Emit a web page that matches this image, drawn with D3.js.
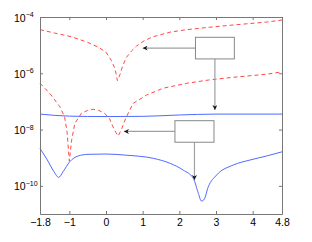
<!DOCTYPE html>
<html>
<head>
<meta charset="utf-8">
<script src="https://cdn.jsdelivr.net/npm/d3@7"></script>
<style>
body { margin: 0; background: #fff; }
</style>
</head>
<body>
<script>
const svgWidth = 312;
const svgHeight = 242;
const margin = {top: 17, right: 30, bottom: 28, left: 40};

// ticks
const xTicks = [-1.8, -1, 0, 1, 2, 3, 4, 4.8];
const yTicks = [1e-4, 1e-6, 1e-8, 1e-10];

// red dashed, upper
const redUpperX = [-1.8, -1.4, -0.95, -0.5, -0.2, 0, 0.15, 0.25, 0.31, 0.38, 0.45, 0.56, 0.7, 0.84, 1.05, 1.29, 1.75, 2.2, 2.8, 3.47, 4.38, 4.8];
const redUpperY = [3.55e-5, 2.69e-5, 2.0e-5, 1.26e-5, 8.3e-6, 5.6e-6, 2.8e-6, 1.4e-6, 5.5e-7, 8.9e-7, 1.78e-6, 3.7e-6, 6.3e-6, 9.5e-6, 1.45e-5, 2.0e-5, 2.9e-5, 3.55e-5, 4.3e-5, 5.2e-5, 6.6e-5, 7.8e-5];

// red dashed, lower
const redLowerX = [-1.8, -1.65, -1.5, -1.26, -1.13, -1.06, -1.0, -0.94, -0.85, -0.67, -0.5, -0.35, -0.2, -0.04, 0.1, 0.19, 0.27, 0.33, 0.42, 0.53, 0.74, 1.11, 1.56, 2.2, 2.79, 3.47, 4.38, 4.8];
const redLowerY = [4.4e-7, 2.8e-7, 1.7e-7, 6.5e-8, 2.9e-8, 7.9e-9, 7.6e-10, 4.0e-9, 1.66e-8, 3.8e-8, 4.8e-8, 5.25e-8, 4.8e-8, 3.8e-8, 2.4e-8, 1.26e-8, 7.9e-9, 5.9e-9, 1.0e-8, 2.4e-8, 8.5e-8, 1.7e-7, 2.95e-7, 4.4e-7, 5.75e-7, 7.2e-7, 9.3e-7, 1.12e-6];

// blue solid, upper (almost flat)
const blueUpperX = [-1.8, -1, 0, 1, 2, 3, 4.8];
const blueUpperY = [3.55e-8, 3.0e-8, 2.9e-8, 2.95e-8, 3.3e-8, 3.55e-8, 3.55e-8];

// blue solid, lower
const blueLowerX = [-1.8, -1.6, -1.42, -1.29, -1.17, -0.99, -0.76, -0.49, 0, 0.55, 1.29, 1.75, 2.11, 2.38, 2.52, 2.6, 2.67, 2.79, 3.02, 3.47, 3.93, 4.38, 4.8];
const blueLowerY = [2.14e-9, 8.3e-10, 3.2e-10, 2.0e-10, 3.2e-10, 7.2e-10, 1.15e-9, 1.32e-9, 1.35e-9, 1.23e-9, 9.5e-10, 6.3e-10, 3.6e-10, 1.86e-10, 5.4e-11, 2.9e-11, 3.2e-11, 9.3e-11, 2.45e-10, 5.5e-10, 8.3e-10, 1.15e-9, 1.62e-9];

// empty annotation boxes with two arrows each (data coords)
const boxLeft = [2.44, 1.88];
const boxRight = [3.5, 2.945];
const boxTop = [1.9e-5, 2.07e-8];
const boxBottom = [3.24e-6, 3.55e-9];
const arrowLeftTip = [1.0, 0.49];
const arrowDownTip = [5.0e-8, 1.62e-10];

var w = svgWidth - margin.left - margin.right;
var h = svgHeight - margin.top - margin.bottom;

var svg = d3.select("body").append("svg")
    .attr("width", svgWidth)
    .attr("height", svgHeight);

var defs = svg.append("defs");
defs.append("marker")
    .attr("id", "head")
    .attr("viewBox", "0 0 10 10")
    .attr("refX", 10)
    .attr("refY", 5)
    .attr("markerUnits", "userSpaceOnUse")
    .attr("markerWidth", 5)
    .attr("markerHeight", 5)
    .attr("orient", "auto")
    .append("path")
    .attr("d", "M0,0L10,5L0,10L3,5Z")
    .attr("fill", "#111");

svg = svg.append("g")
    .attr("transform", `translate(${margin.left},${margin.top})`);

const x = d3.scaleLinear().domain([-1.8, 4.8]).range([0, w]);
const y = d3.scaleLog().domain([1e-11, 1e-4]).range([h, 0]);

const line = (curve) => d3.line()
    .x(d => x(d[0]))
    .y(d => y(d[1]))
    .curve(curve);

const zip = (a, b) => a.map((v, i) => [v, b[i]]);

// curves
svg.append("path")
    .attr("d", line(d3.curveLinear)(zip(redUpperX, redUpperY)))
    .attr("fill", "none")
    .attr("stroke", "#ff4747")
    .attr("stroke-width", 1)
    .attr("stroke-dasharray", "4,3");

svg.append("path")
    .attr("d", line(d3.curveLinear)(zip(redLowerX, redLowerY)))
    .attr("fill", "none")
    .attr("stroke", "#ff4747")
    .attr("stroke-width", 1)
    .attr("stroke-dasharray", "4,3");

svg.append("path")
    .attr("d", line(d3.curveMonotoneX)(zip(blueUpperX, blueUpperY)))
    .attr("fill", "none")
    .attr("stroke", "#4d6bff")
    .attr("stroke-width", 1);

svg.append("path")
    .attr("d", line(d3.curveMonotoneX)(zip(blueLowerX, blueLowerY)))
    .attr("fill", "none")
    .attr("stroke", "#4d6bff")
    .attr("stroke-width", 1);

// axes, ticks inside on all four sides
const fontFam = "'Liberation Sans', Arial, sans-serif";

const xAxisB = svg.append("g")
    .attr("transform", `translate(0,${h})`)
    .call(d3.axisBottom(x).tickValues(xTicks).tickSizeInner(-3).tickSizeOuter(0).tickPadding(5)
        .tickFormat(d => (d < 0 ? "\u2212" : "") + Math.abs(d)));
svg.append("g")
    .call(d3.axisTop(x).tickValues(xTicks).tickSizeInner(-3).tickSizeOuter(0).tickFormat(""));
const yAxisL = svg.append("g")
    .call(d3.axisLeft(y).tickValues(yTicks).tickSizeInner(-3).tickSizeOuter(0).tickFormat(""));
svg.append("g")
    .attr("transform", `translate(${w},0)`)
    .call(d3.axisRight(y).tickValues(yTicks).tickSizeInner(-3).tickSizeOuter(0).tickFormat(""));

svg.selectAll(".domain, .tick line").attr("stroke", "#777");
xAxisB.selectAll("text")
    .attr("fill", "#000")
    .style("font-family", fontFam)
    .style("font-size", "10.5px");

// 10^n labels, left aligned like the original
yAxisL.selectAll(".tick").each(function(d) {
    const t = d3.select(this).append("text")
        .attr("x", -26)
        .attr("y", 4)
        .attr("text-anchor", "start")
        .attr("fill", "#000")
        .style("font-family", fontFam)
        .style("font-size", "10.5px");
    t.append("tspan").text("10");
    t.append("tspan")
        .attr("dy", -4.5)
        .style("font-size", "7px")
        .text("\u2212" + Math.round(-Math.log10(d)));
});

// annotations
const ann = svg.append("g");
boxLeft.forEach((bx, i) => {
    const x0 = x(bx), x1 = x(boxRight[i]);
    const y0 = y(boxTop[i]), y1 = y(boxBottom[i]);
    const cx = (x0 + x1) / 2, cy = (y0 + y1) / 2;
    ann.append("line")
        .attr("x1", x0).attr("y1", cy)
        .attr("x2", x(arrowLeftTip[i])).attr("y2", cy)
        .attr("stroke", "#a0a0a0")
        .attr("stroke-width", 1.2)
        .attr("marker-end", "url(#head)");
    ann.append("line")
        .attr("x1", cx).attr("y1", y1)
        .attr("x2", cx).attr("y2", y(arrowDownTip[i]))
        .attr("stroke", "#a0a0a0")
        .attr("stroke-width", 1.2)
        .attr("marker-end", "url(#head)");
    ann.append("rect")
        .attr("x", x0).attr("y", y0)
        .attr("width", x1 - x0).attr("height", y1 - y0)
        .attr("fill", "#fff")
        .attr("stroke", "#888")
        .attr("stroke-width", 1);
});
</script>
</body>
</html>
